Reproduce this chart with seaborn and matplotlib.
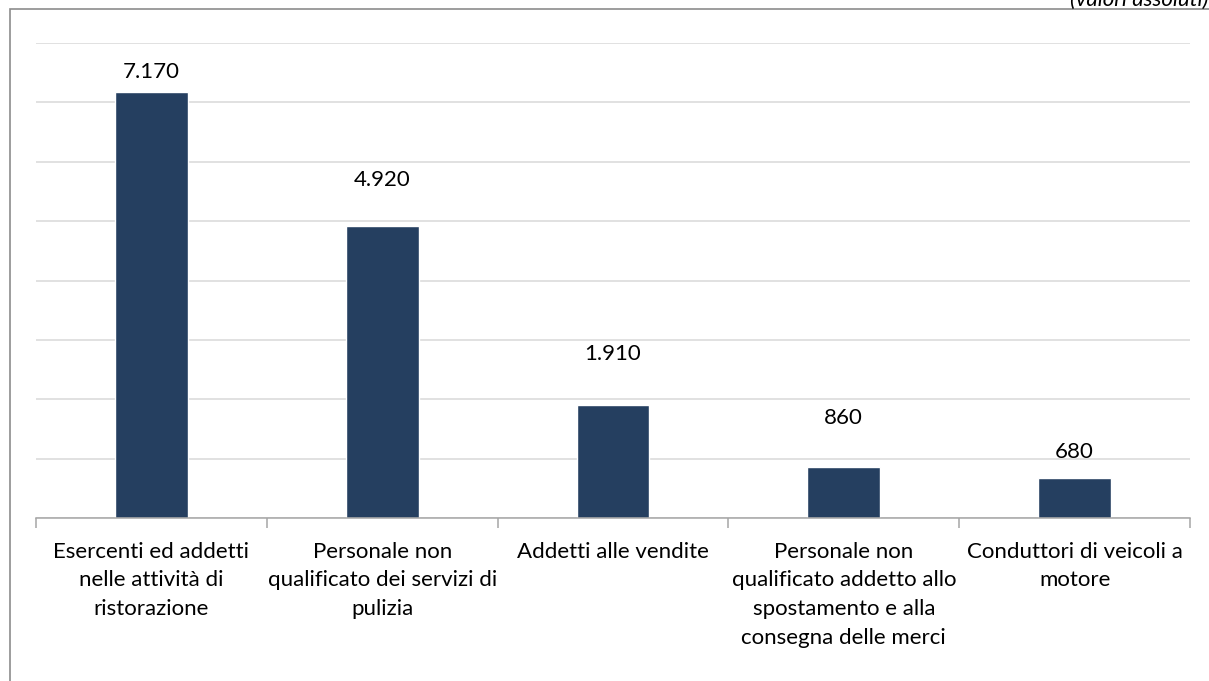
import matplotlib
matplotlib.use("Agg")
import matplotlib.pyplot as plt
import seaborn as sns
import pandas as pd
from matplotlib.patches import Rectangle

categories = [
    "Esercenti ed addetti\nnelle attività di\nristorazione",
    "Personale non\nqualificato dei servizi di\npulizia",
    "Addetti alle vendite",
    "Personale non\nqualificato addetto allo\nspostamento e alla\nconsegna delle merci",
    "Conduttori di veicoli a\nmotore",
]
values = [7170, 4920, 1910, 860, 680]
value_labels = ["7.170", "4.920", "1.910", "860", "680"]
label_offsets_px = [20, 46, 51, 49, 26]

sns.set_theme(style="white")
plt.rcParams["font.family"] = ["Lato", "DejaVu Sans"]

df = pd.DataFrame({"cat": categories, "val": values})

fig = plt.figure(figsize=(12.09, 6.81), dpi=100)
ax = fig.add_axes([36 / 1209, 1 - 518 / 681, (1190 - 36) / 1209, (518 - 43) / 681])

sns.barplot(data=df, x="cat", y="val", color="#253F60", saturation=1, width=0.316, ax=ax)

ax.set_ylim(0, 8000)
ax.set_xlim(-0.5, 4.5)
ax.set_yticks(range(0, 8001, 1000))
ax.set_yticklabels([])
ax.tick_params(axis="y", length=0)
ax.grid(axis="y", color="#D9D9D9", linewidth=1.1)
ax.set_axisbelow(True)
for s in ["left", "right", "top"]:
    ax.spines[s].set_visible(False)
ax.spines["bottom"].set_color("#A6A6A6")
ax.spines["bottom"].set_linewidth(1.1)

ax.set_xticks([i - 0.5 for i in range(6)], minor=True)
ax.tick_params(axis="x", which="minor", length=7, color="#A6A6A6", width=1.1, bottom=True)
ax.tick_params(axis="x", which="major", length=0, pad=17)
ax.set_xticks(range(5))
ax.set_xticklabels(categories, fontsize=16, va="top", color="#000000")
for lbl in ax.get_xticklabels():
    lbl.set_linespacing(1.55)
ax.set_xlabel("")
ax.set_ylabel("")

for i, (v, lab, off) in enumerate(zip(values, value_labels, label_offsets_px)):
    ax.annotate(lab, xy=(i, v), xytext=(0, off * 0.72), textcoords="offset points",
                ha="center", va="center", fontsize=16, color="#000000")

fig.patches.append(Rectangle((10 / 1209, -0.1), 1.2, 1 - 9 / 681 + 0.1, transform=fig.transFigure,
                             fill=False, edgecolor="#8C8C8C", linewidth=1.2))
fig.text(1070 / 1209, 1 - 6 / 681, "(valori assoluti)", fontsize=16, style="italic",
         ha="left", va="baseline", color="#000000")

fig.savefig("out.png", dpi=100)
